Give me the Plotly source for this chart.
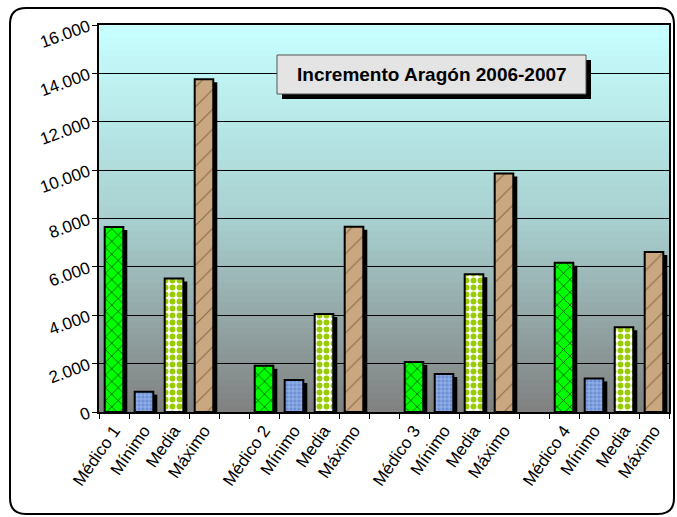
import plotly.graph_objects as go

# --- data -------------------------------------------------------------
groups = ["Médico 1", "Médico 2", "Médico 3", "Médico 4"]
series = ["Médico", "Mínimo", "Media", "Máximo"]
medico = [7650, 1910, 2070, 6170]
minimo = [840, 1320, 1570, 1390]
media = [5520, 4050, 5700, 3500]
maximo = [13760, 7660, 9860, 6620]
y_ticks = [0, 2000, 4000, 6000, 8000, 10000, 12000, 14000, 16000]
title_text = "Incremento Aragón 2006-2007"

# --- layout helpers -----------------------------------------------------
W, H = 677, 517
L, R, T, B = 99, 8, 25, 105
PW, PH = W - L - R, H - T - B


def px_x(px):
    return (px - L) / PW


def px_y(py):
    return (H - B - py) / PH


values = [medico, minimo, media, maximo]
xpos = [[g * 5 + k for g in range(len(groups))] for k in range(4)]
tick_vals, tick_text = [], []
for g, name in enumerate(groups):
    for k, lab in enumerate([name, "Mínimo", "Media", "Máximo"]):
        tick_vals.append(g * 5 + k)
        tick_text.append(lab)

styles = [
    dict(color="#00ff00", pattern=dict(shape="x", fgcolor="#000000", bgcolor="#00ff00",
                                       size=9, solidity=0.12, fillmode="replace")),
    dict(color="#7094d8", pattern=dict(shape="+", fgcolor="#a9c3f2", bgcolor="#6d90d4",
                                       size=4, solidity=0.3, fillmode="replace")),
    dict(color="#ffffff", pattern=dict(shape=".", fgcolor="#99cc00", bgcolor="#ffffff",
                                       size=7, solidity=0.55, fillmode="replace")),
    dict(color="#c4a07a", pattern=dict(shape="/", fgcolor="#8f6c48", bgcolor="#c9a780",
                                       size=14, solidity=0.08, fillmode="replace")),
]

bar_w = 0.62
dx = 4 / (PW / 19)
dy = 3 * 16000 / PH

fig = go.Figure()
# drop shadows
for k in range(4):
    fig.add_trace(go.Bar(
        x=[x + dx for x in xpos[k]], y=[v - dy for v in values[k]], width=bar_w,
        marker=dict(color="#000000", line=dict(width=0)),
        hoverinfo="skip", showlegend=False,
    ))
for k in range(4):
    fig.add_trace(go.Bar(
        x=xpos[k], y=values[k], width=bar_w, name=series[k],
        marker=dict(color=styles[k]["color"], pattern=styles[k]["pattern"],
                    line=dict(color="#000000", width=2)),
        showlegend=False,
    ))

# gradient plot background built from thin bands
shapes = []
stops = [(0.0, (128, 128, 128)), (0.5, (168, 208, 208)), (1.0, (200, 255, 255))]
n = 60
for i in range(n):
    f = (i + 0.5) / n
    for (a, ca), (b, cb) in zip(stops[:-1], stops[1:]):
        if a <= f <= b:
            t = (f - a) / (b - a)
            c = tuple(round(ca[j] + (cb[j] - ca[j]) * t) for j in range(3))
            break
    shapes.append(dict(type="rect", xref="x domain", yref="y domain", layer="below",
                       x0=0, x1=1, y0=i / n, y1=(i + 1) / n + 0.002,
                       fillcolor="rgb(%d,%d,%d)" % c, line=dict(width=0)))

# outer rounded frame
x0, x1, y0, y1, r = px_x(10), px_x(674), px_y(514), px_y(8), 16
rx, ry = r / PW, r / PH
path = (f"M {x0 + rx} {y1} L {x1 - rx} {y1} Q {x1} {y1} {x1} {y1 - ry} "
        f"L {x1} {y0 + ry} Q {x1} {y0} {x1 - rx} {y0} L {x0 + rx} {y0} "
        f"Q {x0} {y0} {x0} {y0 + ry} L {x0} {y1 - ry} Q {x0} {y1} {x0 + rx} {y1} Z")
shapes.append(dict(type="path", xref="paper", yref="paper", path=path,
                   line=dict(color="#000000", width=2), layer="below"))

# title box with shadow
shapes.append(dict(type="rect", xref="paper", yref="paper", layer="above",
                   x0=px_x(282), x1=px_x(591), y0=px_y(99), y1=px_y(60),
                   fillcolor="#000000", line=dict(width=0)))
shapes.append(dict(type="rect", xref="paper", yref="paper", layer="above",
                   x0=px_x(277), x1=px_x(586), y0=px_y(94), y1=px_y(55),
                   fillcolor="#e4e4e4", line=dict(color="#555555", width=1)))

fig.update_layout(
    width=W, height=H,
    margin=dict(l=L, r=R, t=T, b=B, autoexpand=False),
    paper_bgcolor="#ffffff", plot_bgcolor="rgba(0,0,0,0)",
    barmode="overlay",
    separators=",.",
    font=dict(family="Arial, Liberation Sans", size=14, color="#000000"),
    shapes=shapes,
    annotations=[dict(text="<b>" + title_text + "</b>", xref="paper", yref="paper",
                      x=px_x(431.5), y=px_y(74.5), xanchor="center", yanchor="middle",
                      showarrow=False, font=dict(size=19, color="#000000"))],
)
fig.update_yaxes(
    range=[0, 16000], tickvals=y_ticks, tickformat=",d", tickangle=-20,
    showgrid=True, gridcolor="#000000", gridwidth=1,
    showline=True, linecolor="#000000", linewidth=2, mirror=True,
    ticks="outside", ticklen=5, tickcolor="#000000", zeroline=False,
    tickfont=dict(size=17),
)
fig.update_xaxes(
    range=[-0.5, 18.5], tickvals=tick_vals, ticktext=tick_text, tickangle=-55,
    showgrid=False, zeroline=False,
    showline=True, linecolor="#000000", linewidth=2, mirror=True,
    ticks="", minor=dict(ticks="outside", tick0=-0.5, dtick=1, ticklen=5,
                         tickcolor="#000000", showgrid=False),
    tickfont=dict(size=17),
)

fig.write_html("out.html", config={"displayModeBar": False},
               post_script="document.body.style.margin='0';")
